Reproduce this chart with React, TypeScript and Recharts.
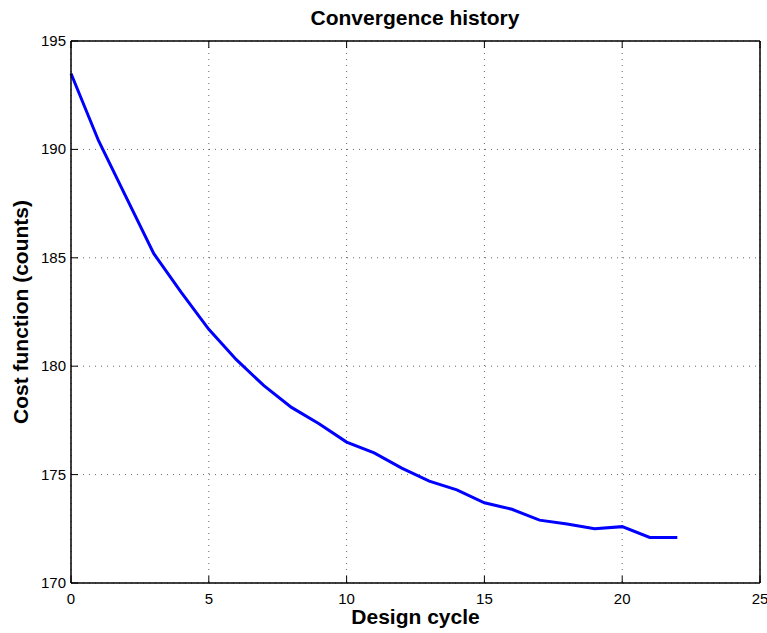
import React from 'react'
import {
  LineChart,
  Line,
  XAxis,
  YAxis,
  CartesianGrid,
  Label,
} from 'recharts'

const cycles = [0, 1, 2, 3, 4, 5, 6, 7, 8, 9, 10, 11, 12, 13, 14, 15, 16, 17, 18, 19, 20, 21, 22]
const cost = [
  193.5, 190.4, 187.8, 185.2, 183.4, 181.7, 180.3, 179.1, 178.1, 177.35, 176.5, 176.0,
  175.3, 174.7, 174.3, 173.7, 173.4, 172.9, 172.72, 172.5, 172.6, 172.1, 172.1,
]
const xTicks = [0, 5, 10, 15, 20, 25]
const yTicks = [170, 175, 180, 185, 190, 195]

const data = cycles.map((c, i) => ({ cycle: c, cost: cost[i] }))

const FONT = '"Liberation Sans", Arial, Helvetica, sans-serif'
const TICK_LEN = 7

// ticks point into the plot box, matlab style
const BottomTick = (props: any) => {
  const { x, y, payload } = props
  return (
    <g>
      <line x1={x} y1={y} x2={x} y2={y - TICK_LEN} stroke="#000" strokeWidth={1} />
      <text x={x} y={y + 21} textAnchor="middle" fontSize={15} fontFamily={FONT} fill="#000">
        {payload.value}
      </text>
    </g>
  )
}

const TopTick = (props: any) => {
  const { x, y } = props
  return <line x1={x} y1={y} x2={x} y2={y + TICK_LEN} stroke="#000" strokeWidth={1} />
}

const LeftTick = (props: any) => {
  const { x, y, payload } = props
  return (
    <g>
      <line x1={x} y1={y} x2={x + TICK_LEN} y2={y} stroke="#000" strokeWidth={1} />
      <text x={x - 5} y={y + 5} textAnchor="end" fontSize={15} fontFamily={FONT} fill="#000">
        {payload.value}
      </text>
    </g>
  )
}

const RightTick = (props: any) => {
  const { x, y } = props
  return <line x1={x} y1={y} x2={x - TICK_LEN} y2={y} stroke="#000" strokeWidth={1} />
}

export default function App() {
  return (
    <div style={{ position: 'absolute', left: 0, top: 0, background: '#fff' }}>
      <div style={{ position: 'relative', width: 767, height: 633 }}>
        <div
          style={{
            position: 'absolute',
            left: 0,
            width: 830,
            top: 6,
            textAlign: 'center',
            fontFamily: FONT,
            fontWeight: 'bold',
            fontSize: 21,
          }}
        >
          Convergence history
        </div>
        <LineChart
          width={767}
          height={633}
          data={data}
          margin={{ top: 40, right: 6, bottom: 20, left: 11 }}
        >
          <CartesianGrid
            stroke="#000"
            strokeDasharray="1 5"
            strokeOpacity={0.6}
            verticalValues={xTicks}
            horizontalValues={yTicks}
          />
          <XAxis
            dataKey="cycle"
            type="number"
            domain={[0, 25]}
            ticks={xTicks}
            height={30}
            axisLine={{ stroke: '#000', strokeWidth: 1.5 }}
            tickLine={false}
            tickSize={0}
            tickMargin={0}
            tick={BottomTick}
            interval={0}
          >
            <Label
              value="Design cycle"
              position="bottom"
              offset={-4}
              style={{ fontFamily: FONT, fontWeight: 'bold', fontSize: 21, fill: '#000' }}
            />
          </XAxis>
          <XAxis
            xAxisId="top"
            orientation="top"
            dataKey="cycle"
            type="number"
            domain={[0, 25]}
            ticks={xTicks}
            height={1}
            axisLine={{ stroke: '#000', strokeWidth: 1.5 }}
            tickLine={false}
            tickSize={0}
            tickMargin={0}
            tick={TopTick}
            interval={0}
          />
          <YAxis
            type="number"
            domain={[170, 195]}
            ticks={yTicks}
            width={60}
            axisLine={{ stroke: '#000', strokeWidth: 1.5 }}
            tickLine={false}
            tickSize={0}
            tickMargin={0}
            tick={LeftTick}
            interval={0}
          >
            <Label
              value="Cost function (counts)"
              angle={-90}
              position="left"
              offset={-10}
              style={{
                textAnchor: 'middle',
                fontFamily: FONT,
                fontWeight: 'bold',
                fontSize: 21,
                fill: '#000',
              }}
            />
          </YAxis>
          <YAxis
            yAxisId="right"
            orientation="right"
            type="number"
            domain={[170, 195]}
            ticks={yTicks}
            width={1}
            axisLine={{ stroke: '#000', strokeWidth: 1.5 }}
            tickLine={false}
            tickSize={0}
            tickMargin={0}
            tick={RightTick}
            interval={0}
          />
          <Line
            type="linear"
            dataKey="cost"
            stroke="#0000ff"
            strokeWidth={3}
            dot={false}
            isAnimationActive={false}
          />
        </LineChart>
      </div>
    </div>
  )
}
